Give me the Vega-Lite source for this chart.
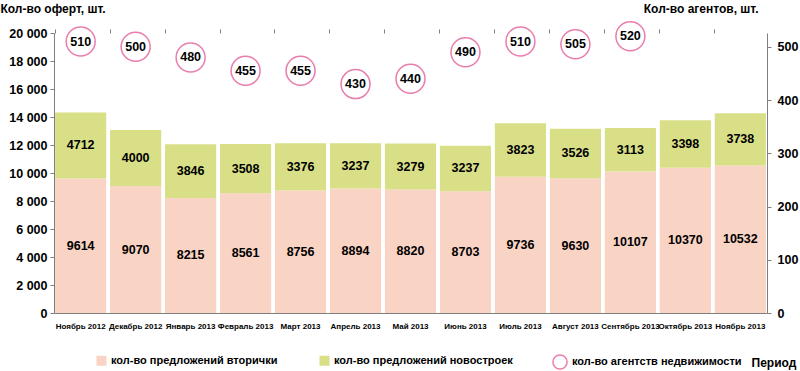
{
  "$schema": "https://vega.github.io/schema/vega-lite/v6.json",
  "width": 713,
  "height": 280,
  "autosize": {"type": "none"},
  "padding": {"left": 54, "top": 33, "right": 33, "bottom": 58},
  "background": "white",
  "config": {
    "font": "Liberation Sans, Arial, sans-serif",
    "view": {"stroke": null},
    "axis": {"grid": false, "domainColor": "#7f7f7f", "tickColor": "#7f7f7f", "labelColor": "#000", "titleColor": "#000"}
  },
  "data": {
    "values": [
      {"month": "Ноябрь 2012", "кол-во предложений вторички": 9614, "кол-во предложений новостроек": 4712, "agents": 510},
      {"month": "Декабрь 2012", "кол-во предложений вторички": 9070, "кол-во предложений новостроек": 4000, "agents": 500},
      {"month": "Январь 2013", "кол-во предложений вторички": 8215, "кол-во предложений новостроек": 3846, "agents": 480},
      {"month": "Февраль 2013", "кол-во предложений вторички": 8561, "кол-во предложений новостроек": 3508, "agents": 455},
      {"month": "Март 2013", "кол-во предложений вторички": 8756, "кол-во предложений новостроек": 3376, "agents": 455},
      {"month": "Апрель 2013", "кол-во предложений вторички": 8894, "кол-во предложений новостроек": 3237, "agents": 430},
      {"month": "Май 2013", "кол-во предложений вторички": 8820, "кол-во предложений новостроек": 3279, "agents": 440},
      {"month": "Июнь 2013", "кол-во предложений вторички": 8703, "кол-во предложений новостроек": 3237, "agents": 490},
      {"month": "Июль 2013", "кол-во предложений вторички": 9736, "кол-во предложений новостроек": 3823, "agents": 510},
      {"month": "Август 2013", "кол-во предложений вторички": 9630, "кол-во предложений новостроек": 3526, "agents": 505},
      {"month": "Сентябрь 2013", "кол-во предложений вторички": 10107, "кол-во предложений новостроек": 3113, "agents": 520},
      {"month": "Октябрь 2013", "кол-во предложений вторички": 10370, "кол-во предложений новостроек": 3398, "agents": null},
      {"month": "Ноябрь 2013", "кол-во предложений вторички": 10532, "кол-во предложений новостроек": 3738, "agents": null}
    ]
  },
  "layer": [
    {
      "transform": [
        {"fold": ["кол-во предложений вторички", "кол-во предложений новостроек"], "as": ["series", "value"]}
      ],
      "encoding": {
        "x": {
          "field": "month", "type": "nominal", "sort": null,
          "scale": {"paddingInner": 0.07, "paddingOuter": 0.02},
          "axis": {
            "title": "Период", "titleX": 697, "titleY": 49, "titleAlign": "left", "titleBaseline": "middle",
            "titleFontSize": 12, "titleFontWeight": "bold",
            "labelAngle": 0, "labelFontSize": 8, "labelFontWeight": "bold", "labelPadding": 9,
            "ticks": false, "labelLimit": 0
          }
        }
      },
      "layer": [
        {
          "mark": {"type": "bar"},
          "encoding": {
            "y": {
              "field": "value", "type": "quantitative", "stack": "zero",
              "scale": {"domain": [0, 20000], "nice": false},
              "axis": {
                "orient": "left", "values": [0, 2000, 4000, 6000, 8000, 10000, 12000, 14000, 16000, 18000, 20000],
                "labelExpr": "replace(format(datum.value, ','), ',', ' ')",
                "labelFontSize": 12.5, "labelFontWeight": "bold", "tickSize": 4, "labelPadding": 3,
                "title": "Кол-во оферт, шт.", "titleAngle": 0, "titleX": -54, "titleY": -25,
                "titleAlign": "left", "titleBaseline": "middle", "titleFontSize": 12, "titleFontWeight": "bold"
              }
            },
            "color": {
              "field": "series", "type": "nominal",
              "scale": {"domain": ["кол-во предложений вторички", "кол-во предложений новостроек"], "range": ["#F9D3C3", "#D9DF87"]},
              "legend": {
                "title": null, "orient": "none", "direction": "horizontal", "legendX": 42, "legendY": 322,
                "symbolType": "square", "symbolSize": 100, "labelFontSize": 11, "labelFontWeight": "bold",
                "columnPadding": 41, "labelLimit": 0, "symbolStrokeWidth": 0
              }
            },
            "order": {"field": "series", "sort": "ascending"}
          }
        },
        {
          "transform": [
            {"stack": "value", "groupby": ["month"], "sort": [{"field": "series", "order": "ascending"}], "as": ["y0", "y1"]},
            {"calculate": "(datum.y0 + datum.y1) / 2", "as": "mid"}
          ],
          "mark": {"type": "text", "fontSize": 12.5, "fontWeight": "bold", "color": "#000"},
          "encoding": {
            "y": {
              "field": "mid", "type": "quantitative",
              "scale": {"domain": [0, 20000], "nice": false},
              "axis": {
                "orient": "left", "values": [0, 2000, 4000, 6000, 8000, 10000, 12000, 14000, 16000, 18000, 20000],
                "labelExpr": "replace(format(datum.value, ','), ',', ' ')",
                "labelFontSize": 12.5, "labelFontWeight": "bold", "tickSize": 4, "labelPadding": 3,
                "title": "Кол-во оферт, шт.", "titleAngle": 0, "titleX": -54, "titleY": -25,
                "titleAlign": "left", "titleBaseline": "middle", "titleFontSize": 12, "titleFontWeight": "bold"
              }
            },
            "text": {"field": "value", "type": "quantitative", "format": "d"}
          }
        }
      ]
    },
    {
      "encoding": {
        "x": {
          "field": "month", "type": "nominal", "sort": null,
          "scale": {"paddingInner": 0.07, "paddingOuter": 0.02},
          "axis": {
            "title": null, "labels": false, "domain": false, "ticks": true, "tickSize": 4, "bandPosition": 0
          }
        }
      },
      "layer": [
        {
          "mark": {"type": "point", "shape": "circle", "filled": false, "size": 840, "strokeWidth": 1.5},
          "encoding": {
            "y": {
              "field": "agents", "type": "quantitative",
              "scale": {"domain": [0, 526], "nice": false},
              "axis": {
                "orient": "right", "values": [0, 100, 200, 300, 400, 500],
                "labelFontSize": 12.5, "labelFontWeight": "bold", "tickSize": 4, "labelPadding": 6,
                "title": "Кол-во агентов, шт.", "titleAngle": 0, "titleX": -9, "titleY": -25,
                "titleAlign": "right", "titleBaseline": "middle", "titleFontSize": 12, "titleFontWeight": "bold"
              }
            },
            "stroke": {
              "datum": "кол-во агентств недвижимости",
              "scale": {"range": ["#E0488C"]},
              "legend": {
                "title": null, "orient": "none", "legendX": 498, "legendY": 321,
                "symbolType": "circle", "symbolSize": 200, "symbolStrokeWidth": 1.5, "symbolFillColor": "white",
                "labelFontSize": 11, "labelFontWeight": "bold", "labelLimit": 0
              }
            }
          }
        },
        {
          "mark": {"type": "text", "fontSize": 12.5, "fontWeight": "bold", "color": "#000"},
          "encoding": {
            "y": {
              "field": "agents", "type": "quantitative",
              "scale": {"domain": [0, 526], "nice": false},
              "axis": {
                "orient": "right", "values": [0, 100, 200, 300, 400, 500],
                "labelFontSize": 12.5, "labelFontWeight": "bold", "tickSize": 4, "labelPadding": 6,
                "title": "Кол-во агентов, шт.", "titleAngle": 0, "titleX": -9, "titleY": -25,
                "titleAlign": "right", "titleBaseline": "middle", "titleFontSize": 12, "titleFontWeight": "bold"
              }
            },
            "text": {"field": "agents", "type": "quantitative"}
          }
        }
      ]
    }
  ],
  "resolve": {"scale": {"y": "independent", "color": "independent"}, "axis": {"x": "independent"}}
}
